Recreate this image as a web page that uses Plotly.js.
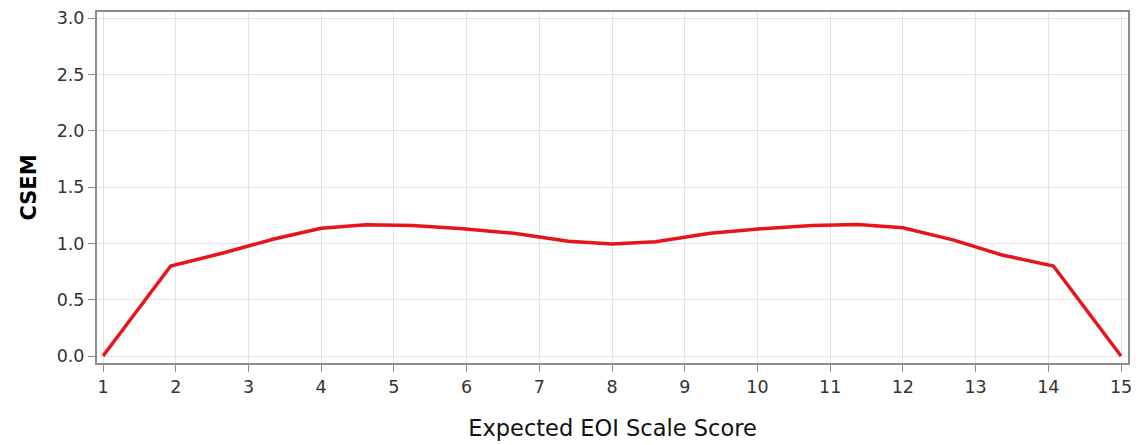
<!DOCTYPE html>
<html>
<head>
<meta charset="utf-8">
<script src="https://cdn.plot.ly/plotly-3.0.1.min.js"></script>
<style>html,body{margin:0;padding:0;background:#fff;}#chart{width:1139px;height:445px;}</style>
</head>
<body>
<div id="chart"></div>
<script>
const scaleScore = [1, 1.93, 2.65, 3.35, 4.0, 4.62, 5.25, 5.95, 6.65, 7.4, 8, 8.6, 9.35, 10.05, 10.75, 11.38, 12.0, 12.7, 13.35, 14.07, 15];
const csem = [0, 0.80, 0.915, 1.04, 1.135, 1.165, 1.16, 1.13, 1.09, 1.02, 0.995, 1.015, 1.09, 1.13, 1.16, 1.168, 1.14, 1.03, 0.90, 0.80, 0];
const xTicks = [1,2,3,4,5,6,7,8,9,10,11,12,13,14,15];
const yTicks = [0, 0.5, 1, 1.5, 2, 2.5, 3];
const yTickLabels = ["0.0","0.5","1.0","1.5","2.0","2.5","3.0"];

const trace = {
  x: scaleScore, y: csem, type: 'scatter', mode: 'lines',
  line: {color: '#e8141c', width: 3.5}, hoverinfo: 'x+y'
};
const layout = {
  width: 1139, height: 445,
  margin: {l: 97, r: 11, t: 12, b: 82},
  paper_bgcolor: '#fff', plot_bgcolor: '#fff',
  showlegend: false,
  font: {family: 'DejaVu Sans, sans-serif', color: '#333', size: 17.5},
  xaxis: {
    range: [0.917, 15.096], tickvals: xTicks, ticktext: xTicks.map(String),
    showgrid: true, gridcolor: '#e4e4e4', gridwidth: 1, zeroline: false,
    showline: true, linecolor: '#8c8c8c', linewidth: 2, mirror: true,
    ticks: 'outside', ticklen: 7, tickcolor: '#8c8c8c', tickwidth: 1,
    tickfont: {family: 'DejaVu Sans, sans-serif', size: 17.5, color: '#333'},
    title: {text: 'Expected EOI Scale Score', standoff: 24,
            font: {family: 'DejaVu Sans, sans-serif', size: 22.5, color: '#111'}}
  },
  yaxis: {
    range: [-0.062, 3.056], tickvals: yTicks, ticktext: yTickLabels,
    showgrid: true, gridcolor: '#e4e4e4', gridwidth: 1, zeroline: false,
    showline: true, linecolor: '#8c8c8c', linewidth: 2, mirror: true,
    ticks: 'outside', ticklen: 7, tickcolor: '#8c8c8c', tickwidth: 1,
    tickfont: {family: 'DejaVu Sans, sans-serif', size: 17.5, color: '#333'},
    title: {text: 'CSEM', standoff: 14,
            font: {family: 'DejaVu Sans, sans-serif', size: 21, color: '#000', weight: 'bold'}}
  }
};
Plotly.newPlot('chart', [trace], layout, {displayModeBar: false, staticPlot: true});
</script>
</body>
</html>
